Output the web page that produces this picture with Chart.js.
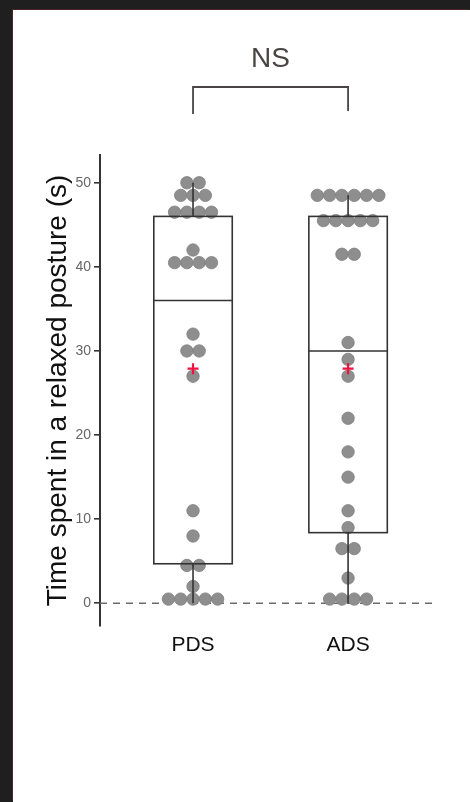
<!DOCTYPE html>
<html>
<head>
<meta charset="utf-8">
<script src="https://cdn.jsdelivr.net/npm/chart.js@4.4.0/dist/chart.umd.min.js"></script>
<style>
  html, body { margin: 0; padding: 0; background: #1f1f1f; width: 470px; height: 802px; overflow: hidden; }
  #panel { position: absolute; left: 13px; top: 10px; width: 457px; height: 792px; background: #fff; box-shadow: -1px -1px 0 #4a2525; }
</style>
</head>
<body>
<div id="panel"><canvas id="postureChart"></canvas></div>
<script>
// groups and raw values
const groups = ['PDS', 'ADS'];
const pdsTimes = [50, 50, 48.5, 48.5, 48.5, 46.5, 46.5, 46.5, 46.5, 42, 40.5, 40.5, 40.5, 40.5,
                  32, 30, 30, 27, 11, 8, 4.5, 4.5, 2, 0.5, 0.5, 0.5, 0.5, 0.5];
const adsTimes = [48.5, 48.5, 48.5, 48.5, 48.5, 48.5, 45.5, 45.5, 45.5, 45.5, 45.5, 41.5, 41.5,
                  31, 29, 27, 22, 18, 15, 11, 9, 6.5, 6.5, 3, 0.5, 0.5, 0.5, 0.5];

// box stats per group
const boxLow = [0, 0];
const boxQ1 = [4.7, 8.4];
const boxMedian = [36, 30];
const boxQ3 = [46, 46];
const boxHigh = [50, 48.5];
const groupMeans = [27.9, 27.9];

const yTicks = [0, 10, 20, 30, 40, 50];

const DOT_STEP = 0.0794;   // swarm spacing, x units
const BOX_HALF = 0.253;

// spread equal values side by side
function swarm(values, center) {
    const counts = {};
    values.forEach(v => counts[v] = (counts[v] || 0) + 1);
    const seen = {};
    return values.map(v => {
        seen[v] = seen[v] === undefined ? 0 : seen[v] + 1;
        return { x: center + (seen[v] - (counts[v] - 1) / 2) * DOT_STEP, y: v };
    });
}

const dots = swarm(pdsTimes, 1).concat(swarm(adsTimes, 2));
const means = groupMeans.map((m, i) => ({ x: i + 1, y: m }));

const boxPlugin = {
    id: 'boxes',
    beforeDatasetsDraw(chart) {
        const { ctx, chartArea, scales: { y } } = chart;
        const y0 = y.getPixelForValue(0);
        ctx.save();
        ctx.strokeStyle = '#6b6b6b';
        ctx.lineWidth = 1.6;
        ctx.setLineDash([7, 6]);
        ctx.beginPath();
        ctx.moveTo(chartArea.left, y0);
        ctx.lineTo(chartArea.right, y0);
        ctx.stroke();
        ctx.restore();
    },
    afterDatasetDraw(chart, args) {
        if (args.index !== 0) return;
        const { ctx, scales: { x, y } } = chart;
        ctx.save();
        ctx.strokeStyle = '#333';
        ctx.lineWidth = 1.6;
        groups.forEach((g, i) => {
            const cx = x.getPixelForValue(i + 1);
            const left = x.getPixelForValue(i + 1 - BOX_HALF);
            const right = x.getPixelForValue(i + 1 + BOX_HALF);
            const top = y.getPixelForValue(boxQ3[i]);
            const bottom = y.getPixelForValue(boxQ1[i]);
            ctx.strokeRect(left, top, right - left, bottom - top);
            ctx.beginPath();
            const med = y.getPixelForValue(boxMedian[i]);
            ctx.moveTo(left, med);
            ctx.lineTo(right, med);
            ctx.moveTo(cx, top);
            ctx.lineTo(cx, y.getPixelForValue(boxHigh[i]));
            ctx.moveTo(cx, bottom);
            ctx.lineTo(cx, y.getPixelForValue(boxLow[i]));
            ctx.stroke();
        });
        ctx.restore();
    },
    afterDraw(chart) {
        const { ctx, chartArea, scales: { x } } = chart;
        const x1 = x.getPixelForValue(1);
        const x2 = x.getPixelForValue(2);
        const barY = chartArea.top - 68;
        ctx.save();
        ctx.strokeStyle = '#4a4444';
        ctx.lineWidth = 1.8;
        ctx.beginPath();
        ctx.moveTo(x1, chartArea.top - 41);
        ctx.lineTo(x1, barY);
        ctx.lineTo(x2, barY);
        ctx.lineTo(x2, chartArea.top - 44);
        ctx.stroke();
        ctx.fillStyle = '#4a4545';
        ctx.font = '28px "Liberation Sans", Arial, sans-serif';
        ctx.textAlign = 'center';
        ctx.textBaseline = 'middle';
        ctx.fillText('NS', (x1 + x2) / 2, chartArea.top - 96);
        ctx.restore();
    }
};

const ctx = document.getElementById('postureChart').getContext('2d');
const postureChart = new Chart(ctx, {
    type: 'scatter',
    data: {
        datasets: [{
            label: 'Animals',
            data: dots,
            order: 1,
            pointRadius: 6.2,
            pointBackgroundColor: '#8e8e8e',
            pointBorderColor: '#7e7e7e',
            pointBorderWidth: 0.8
        }, {
            label: 'Mean',
            data: means,
            order: 0,
            pointStyle: 'cross',
            pointRadius: 5.5,
            pointBorderColor: '#f0123f',
            pointBorderWidth: 2.2
        }]
    },
    options: {
        responsive: true,
        maintainAspectRatio: false,
        animation: false,
        events: [],
        layout: { padding: { top: 145, right: 32, bottom: 136, left: 0 } },
        plugins: {
            legend: { display: false },
            tooltip: { enabled: false }
        },
        scales: {
            x: {
                type: 'linear',
                min: 0.4,
                max: 2.58,
                afterBuildTicks: scale => { scale.ticks = groups.map((g, i) => ({ value: i + 1 })); },
                afterFit: scale => { scale.height = 40; },
                border: { display: false },
                grid: { display: false, drawTicks: false },
                ticks: {
                    autoSkip: false,
                    maxRotation: 0,
                    padding: 7,
                    color: '#111',
                    font: { family: '"Liberation Sans", Arial, sans-serif', size: 21 },
                    callback: v => groups[v - 1]
                }
            },
            y: {
                min: -2.7,
                max: 53.3,
                afterBuildTicks: scale => { scale.ticks = yTicks.map(v => ({ value: v })); },
                afterFit: scale => { scale.width = 87; },
                border: { display: true, color: '#333', width: 2 },
                grid: { drawOnChartArea: false, drawTicks: true, tickLength: 6, color: '#333', lineWidth: 1.6 },
                ticks: {
                    padding: 3,
                    color: '#666',
                    font: { family: '"Liberation Sans", Arial, sans-serif', size: 14 }
                },
                title: {
                    display: true,
                    text: 'Time spent in a relaxed posture (s)',
                    color: '#111',
                    padding: { top: 28, bottom: 0 },
                    font: { family: '"Liberation Sans", Arial, sans-serif', size: 28 }
                }
            }
        }
    },
    plugins: [boxPlugin]
});
</script>
</body>
</html>
